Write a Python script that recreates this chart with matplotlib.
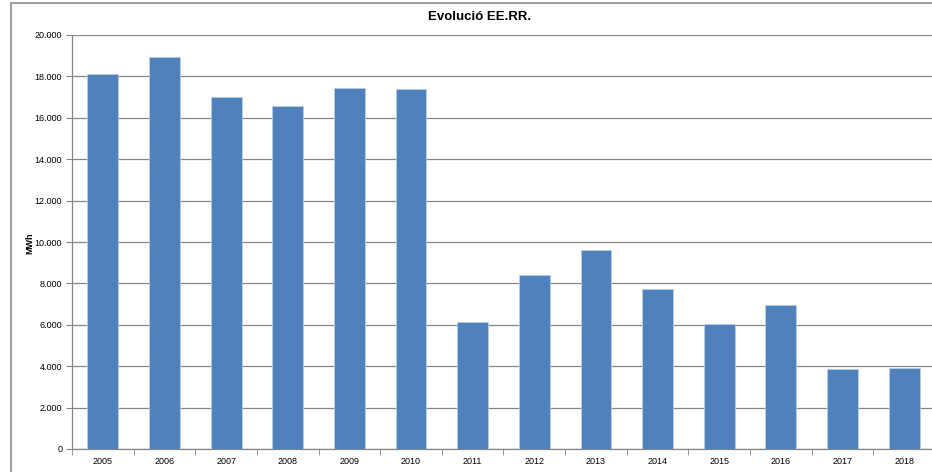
import matplotlib
matplotlib.use("Agg")
import matplotlib.pyplot as plt
from matplotlib.patches import Rectangle
from matplotlib.ticker import FuncFormatter, FixedLocator
import numpy as np

plt.rcParams['font.family'] = ['Liberation Sans', 'DejaVu Sans']

years = ['2005', '2006', '2007', '2008', '2009', '2010', '2011', '2012',
         '2013', '2014', '2015', '2016', '2017', '2018']
values = [18100, 18950, 17000, 16550, 17450, 17400, 6130, 8400,
          9620, 7730, 6040, 6960, 3870, 3900]
title = 'Evolució EE.RR.'
ylabel = 'MWh'

W, H = 932, 472
fig = plt.figure(figsize=(W / 100, H / 100), dpi=100)

# outer chart border
fig.patches.append(Rectangle((11 / W, -0.1), 1.2, (H - 3) / H + 0.1,
                             transform=fig.transFigure, fill=False,
                             edgecolor='#8c8c8c', linewidth=1.2))

ax = fig.add_axes([72 / W, (H - 449) / H, (935 - 72) / W, (449 - 35) / H])
x = np.arange(len(years))
ax.bar(x, values, width=0.5, color='#4f81bd', edgecolor='#b9cde5',
       linewidth=0.6, zorder=3)

ax.set_xlim(-0.5, len(years) - 0.5)
ax.set_ylim(0, 20000)
ax.set_yticks(np.arange(0, 20001, 2000))
ax.yaxis.set_major_formatter(FuncFormatter(lambda v, p: f"{int(v):,}".replace(',', '.')))
ax.grid(axis='y', color='#868686', linewidth=0.9, zorder=0)

ax.set_xticks(x)
ax.set_xticklabels(years)
ax.xaxis.set_minor_locator(FixedLocator(np.arange(-0.5, len(years), 1)))
ax.tick_params(axis='x', which='major', length=0, labelsize=6.5, pad=6)
ax.tick_params(axis='x', which='minor', length=4, color='#868686', direction='out')
ax.tick_params(axis='y', length=4, color='#868686', labelsize=6.5, pad=3)

for s in ['top', 'right']:
    ax.spines[s].set_visible(False)
for s in ['left', 'bottom']:
    ax.spines[s].set_color('#868686')
    ax.spines[s].set_linewidth(0.9)

fig.text(480 / W, 1 - 17 / H, title, ha='center', va='center',
         fontsize=9.5, fontweight='bold')
fig.text(30 / W, 1 - 243 / H, ylabel, ha='center', va='center',
         rotation=90, fontsize=6.5, fontweight='bold')

fig.savefig('out.png', dpi=100)
